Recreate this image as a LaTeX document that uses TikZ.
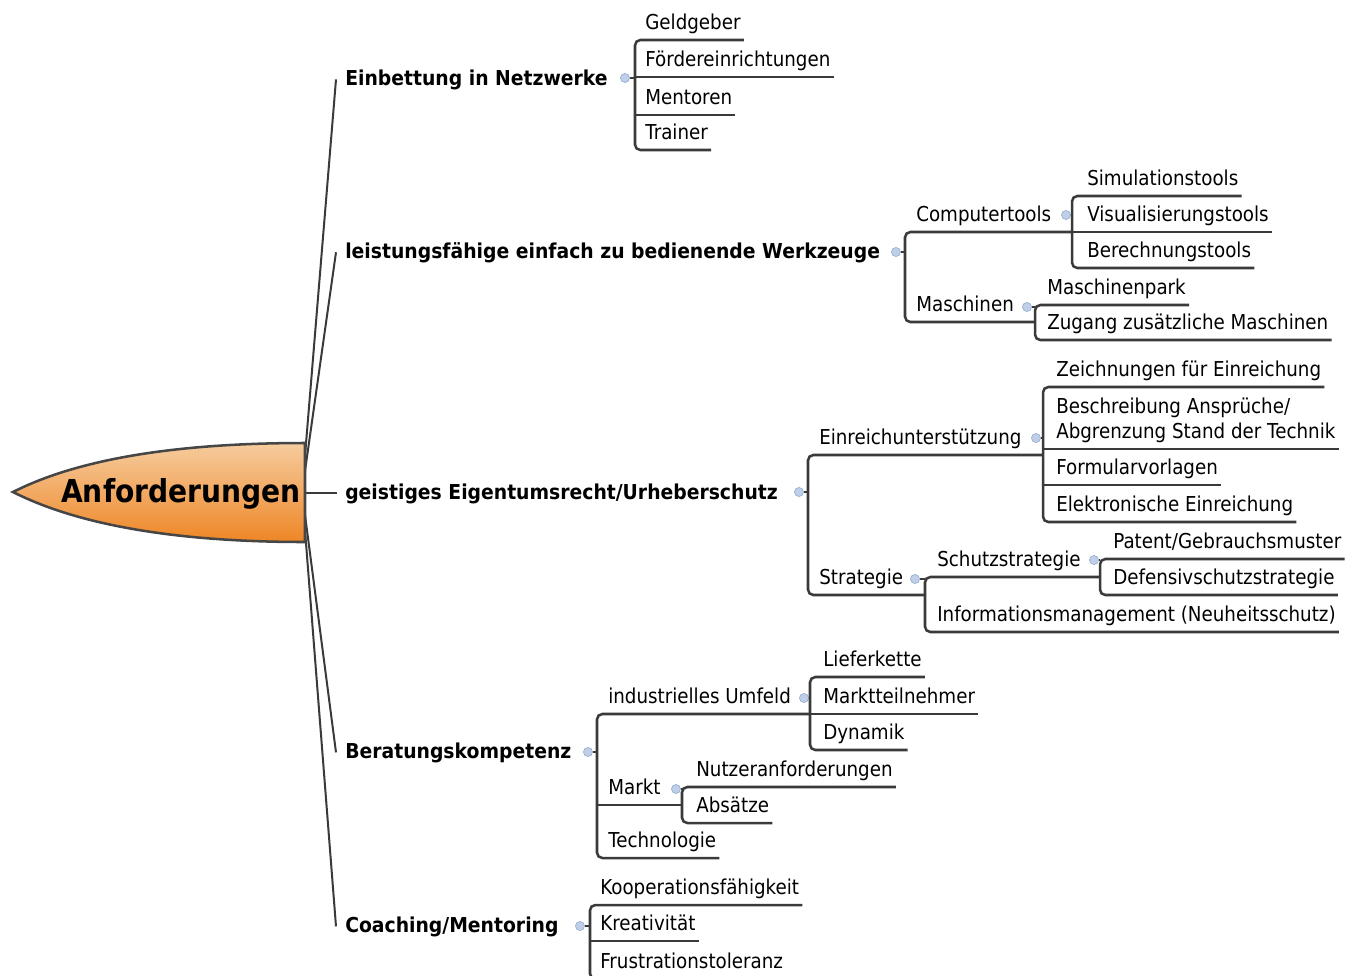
\documentclass[tikz,border=0pt]{standalone}
\usepackage{fontspec}
\setmainfont[FakeStretch=0.89]{DejaVu Sans}
\newfontfamily\mainbold[FakeStretch=0.915]{DejaVu Sans}
\usetikzlibrary{calc}
\definecolor{lc}{RGB}{58,58,58}
\definecolor{bordc}{RGB}{70,70,70}
\definecolor{dotfill}{RGB}{192,207,232}
\definecolor{dotdraw}{RGB}{150,175,212}
\definecolor{otop}{RGB}{246,204,158}
\definecolor{obot}{RGB}{238,134,38}
\newcommand\mmfont{\fontsize{15.4}{18.75}\selectfont}
\begin{document}
\begin{tikzpicture}[x=0.75pt,y=-0.75pt,
  conn/.style={draw=lc, line width=1.9pt, rounded corners=4pt},
  mainln/.style={draw=lc, line width=1.5pt},
  leaf/.style={anchor=south west, inner xsep=2.25pt, inner ysep=0pt, text height=11.5pt, text depth=7.5pt, font=\mmfont},
  mainnode/.style={anchor=base west, inner sep=0pt, font=\mainbold\bfseries\mmfont},
  dot/.style={circle, inner sep=0pt, minimum size=6.8pt, fill=dotfill, draw=dotdraw, line width=0.5pt}
]
\useasboundingbox (0,0) rectangle (1358,975);
\clip (0,0) rectangle (1358,975);
\coordinate (hub) at (302,492);

% main branch nodes
\node[mainnode] (m1) at (345,85) {Einbettung in Netzwerke};
\node[mainnode] (m2) at (345,258) {leistungsfähige einfach zu bedienende Werkzeuge};
\node[mainnode] (m3) at (345,499) {geistiges Eigentumsrecht/Urheberschutz};
\node[mainnode] (m4) at (345,758) {Beratungskompetenz};
\node[mainnode] (m5) at (345,932) {Coaching/Mentoring};

\draw[mainln] (hub) -- ($(m1.west)+(-9,0)$);
\draw[mainln] (hub) -- ($(m2.west)+(-9,0)$);
\draw[mainln] (hub |- m3.west) -- ($(m3.west)+(-8,0)$);
\draw[mainln] (hub) -- ($(m4.west)+(-9,0)$);
\draw[mainln] (hub) -- ($(m5.west)+(-9,0)$);

% central node
\path[draw=bordc, line width=1.9pt, top color=otop, bottom color=obot]
  (13,492) .. controls (80,458) and (180,443) .. (305,443) -- (305,542)
  .. controls (180,542) and (80,526) .. cycle;
\node[anchor=base, inner sep=0pt, font=\bfseries\fontsize{23.7}{28}\selectfont] (root) at (181,502) {Anforderungen};

% ---------- branch 1
\node[dot] (d1) at (625,78) {};
\coordinate (v1) at (635,78);
\node[leaf] (a1) at (642,40) {Geldgeber};
\node[leaf] (a2) at (642,77) {Fördereinrichtungen};
\node[leaf] (a3) at (642,115) {Mentoren};
\node[leaf] (a4) at (642,150) {Trainer};
\draw[conn] (d1.east) -- (v1);
\draw[conn] (a1.south east) -- (v1 |- a1.south) -- (v1 |- a4.south) -- (a4.south east);
\draw[conn] (v1 |- a2.south) -- (a2.south east);
\draw[conn] (v1 |- a3.south) -- (a3.south east);

% ---------- branch 2
\node[dot] (d2) at (896,252) {};
\coordinate (v2) at (905,252);
\node[leaf] (b1) at (913,232) {Computertools};
\node[leaf] (b2) at (913,322) {Maschinen};
\node[dot] (d21) at (1066,215) {};
\coordinate (v21) at (1072,215);
\node[leaf] (b11) at (1084,196) {Simulationstools};
\node[leaf] (b12) at (1084,232) {Visualisierungstools};
\node[leaf] (b13) at (1084,268) {Berechnungstools};
\node[dot] (d22) at (1027,307) {};
\coordinate (v22) at (1035,307);
\node[leaf] (b21) at (1044,305) {Maschinenpark};
\node[leaf] (b22) at (1044,340) {Zugang zusätzliche Maschinen};
\draw[conn] (d2.east) -- (v2);
\draw[conn] (v21 |- b1.south) -- (v2 |- b1.south) -- (v2 |- b2.south) -- (v22 |- b2.south);
\draw[conn] (d21.east) -- (v21);
\draw[conn] (b11.south east) -- (v21 |- b11.south) -- (v21 |- b13.south) -- (b13.south east);
\draw[conn] (v21 |- b12.south) -- (b12.south east);
\draw[conn] (d22.east) -- (v22);
\draw[conn] (b21.south east) -- (v22 |- b21.south) -- (v22 |- b22.south) -- (b22.south east);

% ---------- branch 3
\node[dot] (d3) at (799,492) {};
\coordinate (v3) at (808,492);
\node[leaf] (c1) at (816,455) {Einreichunterstützung};
\node[leaf] (c2) at (816,595) {Strategie};
\node[dot] (d31) at (1036,438) {};
\coordinate (v31) at (1043,438);
\node[leaf] (c11) at (1053,387) {Zeichnungen für Einreichung};
\node[leaf] (c12) at (1053,449) {\begin{tabular}[b]{@{}l@{}}Beschreibung Ansprüche/\\Abgrenzung Stand der Technik\end{tabular}};
\node[leaf] (c13) at (1053,485) {Formularvorlagen};
\node[leaf] (c14) at (1053,522) {Elektronische Einreichung};
\node[dot] (d32) at (915,579) {};
\coordinate (v32) at (925,579);
\node[leaf] (c21) at (934,577) {Schutzstrategie};
\node[leaf] (c22) at (934,632) {Informationsmanagement (Neuheitsschutz)};
\node[dot] (d321) at (1094,560) {};
\coordinate (v321) at (1100,560);
\node[leaf] (c211) at (1110,559) {Patent/Gebrauchsmuster};
\node[leaf] (c212) at (1110,595) {Defensivschutzstrategie};
\draw[conn] (d3.east) -- (v3);
\draw[conn] (v31 |- c1.south) -- (v3 |- c1.south) -- (v3 |- c2.south) -- (v32 |- c2.south);
\draw[conn] (d31.east) -- (v31);
\draw[conn] (c11.south east) -- (v31 |- c11.south) -- (v31 |- c14.south) -- (c14.south east);
\draw[conn] (v31 |- c12.south) -- (c12.south east);
\draw[conn] (v31 |- c13.south) -- (c13.south east);
\draw[conn] (d32.east) -- (v32);
\draw[conn] (v321 |- c21.south) -- (v32 |- c21.south) -- (v32 |- c22.south) -- (c22.south east);
\draw[conn] (d321.east) -- (v321);
\draw[conn] (c211.south east) -- (v321 |- c211.south) -- (v321 |- c212.south) -- (c212.south east);

% ---------- branch 4
\node[dot] (d4) at (588,752) {};
\coordinate (v4) at (597,752);
\node[leaf] (e1) at (605,714) {industrielles Umfeld};
\node[leaf] (e2) at (605,805) {Markt};
\node[leaf] (e3) at (605,858) {Technologie};
\node[dot] (d41) at (804,698) {};
\coordinate (v41) at (810,698);
\node[leaf] (e11) at (820,677) {Lieferkette};
\node[leaf] (e12) at (820,714) {Marktteilnehmer};
\node[leaf] (e13) at (820,750) {Dynamik};
\node[dot] (d42) at (676,789) {};
\coordinate (v42) at (682,789);
\node[leaf] (e21) at (693,787) {Nutzeranforderungen};
\node[leaf] (e22) at (693,823) {Absätze};
\draw[conn] (d4.east) -- (v4);
\draw[conn] (v41 |- e1.south) -- (v4 |- e1.south) -- (v4 |- e3.south) -- (e3.south east);
\draw[conn] (v4 |- e2.south) -- (v42 |- e2.south);
\draw[conn] (d41.east) -- (v41);
\draw[conn] (e11.south east) -- (v41 |- e11.south) -- (v41 |- e13.south) -- (e13.south east);
\draw[conn] (v41 |- e12.south) -- (e12.south east);
\draw[conn] (d42.east) -- (v42);
\draw[conn] (e21.south east) -- (v42 |- e21.south) -- (v42 |- e22.south) -- (e22.south east);

% ---------- branch 5
\node[dot] (d5) at (580,926) {};
\coordinate (v5) at (590,926);
\node[leaf] (f1) at (597,905) {Kooperationsfähigkeit};
\node[leaf] (f2) at (597,941) {Kreativität};
\node[leaf] (f3) at (597,979) {Frustrationstoleranz};
\draw[conn] (d5.east) -- (v5);
\draw[conn] (f1.south east) -- (v5 |- f1.south) -- (v5 |- f3.south) -- (f3.south east);
\draw[conn] (v5 |- f2.south) -- (f2.south east);
\end{tikzpicture}
\end{document}
